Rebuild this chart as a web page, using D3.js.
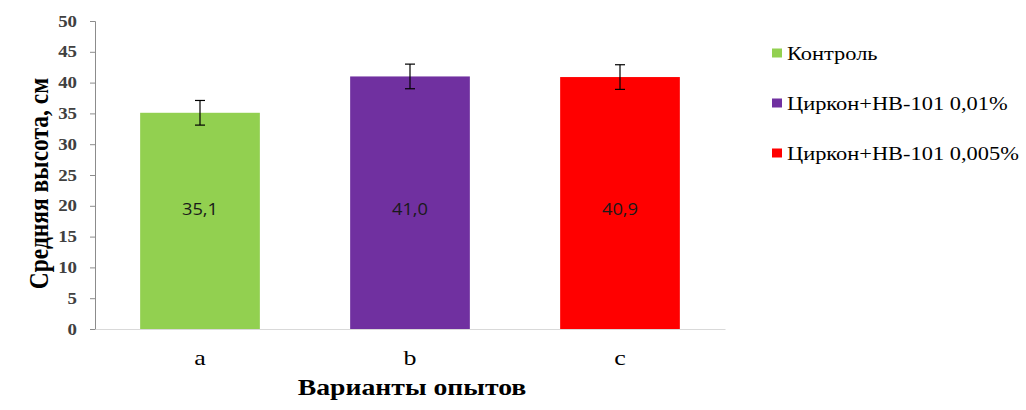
<!DOCTYPE html>
<html>
<head>
<meta charset="utf-8">
<script src="https://cdn.jsdelivr.net/npm/d3@7"></script>
<style>
  html, body { margin: 0; padding: 0; background: #fff; }
  svg { display: block; }
</style>
</head>
<body>
<svg id="chart" width="1026" height="410"></svg>
<script>
const categories = ["a", "b", "c"];
const seriesNames = ["Контроль", "Циркон+НВ-101 0,01%", "Циркон+НВ-101 0,005%"];
const values = [35.1, 41.0, 40.9];
const errors = [2.0, 2.0, 2.0];
const valueLabels = ["35,1", "41,0", "40,9"];
const colors = ["#92d050", "#7030a0", "#ff0000"];
const yTicks = [0, 5, 10, 15, 20, 25, 30, 35, 40, 45, 50];

const SERIF = '"Liberation Serif", "Times New Roman", serif';
const SX = 1.18; // horizontal stretch of the original picture's text
const svg = d3.select("#chart");
const margin = { left: 95, right: 301, top: 21, bottom: 81 };
const W = 1026, H = 410;

const x = d3.scaleBand().domain(categories).range([margin.left, W - margin.right]).paddingInner(0.43).paddingOuter(0.215);
const y = d3.scaleLinear().domain([0, 50]).range([H - margin.bottom, margin.top]);

// y axis
const yAxis = svg.append("g")
  .attr("transform", `translate(${margin.left},0)`)
  .call(d3.axisLeft(y).tickValues(yTicks).tickSize(5).tickPadding(13));
yAxis.attr("font-family", null);
yAxis.select(".domain").attr("stroke", "#8c8c8c").attr("stroke-width", 1);
yAxis.selectAll(".tick line").attr("stroke", "#8c8c8c");
yAxis.selectAll(".tick text")
  .attr("x", -18 / SX)
  .attr("transform", `scale(${SX},1)`)
  .style("font-family", SERIF)
  .style("font-weight", "bold").style("font-size", "16px").attr("fill", "#404040");

// x axis baseline
const xAxis = svg.append("g")
  .attr("transform", `translate(0,${y(0)})`)
  .call(d3.axisBottom(x).tickSize(0).tickPadding(20.5));
xAxis.attr("font-family", null);
xAxis.select(".domain").attr("stroke", "#d9d9d9");
xAxis.selectAll(".tick text")
  .attr("transform", `scale(${SX},1)`)
  .style("font-family", SERIF)
  .style("font-size", "22px").attr("fill", "#000");

// bars
svg.append("g").selectAll("rect").data(categories).join("rect")
  .attr("x", d => x(d))
  .attr("width", x.bandwidth())
  .attr("y", (d, i) => y(values[i]))
  .attr("height", (d, i) => y(0) - y(values[i]))
  .attr("fill", (d, i) => colors[i]);

// error bars
const eg = svg.append("g").attr("stroke", "#000").attr("stroke-width", 1.2);
categories.forEach((c, i) => {
  const cx = x(c) + x.bandwidth() / 2;
  const top = y(values[i] + errors[i]), bot = y(values[i] - errors[i]);
  eg.append("line").attr("x1", cx).attr("x2", cx).attr("y1", top).attr("y2", bot);
  eg.append("line").attr("x1", cx - 5).attr("x2", cx + 5).attr("y1", top).attr("y2", top);
  eg.append("line").attr("x1", cx - 5).attr("x2", cx + 5).attr("y1", bot).attr("y2", bot);
});

// value labels
svg.append("g").selectAll("g").data(categories).join("g")
  .attr("transform", d => `translate(${x(d) + x.bandwidth() / 2},${y(19.5)})`)
  .append("text")
  .attr("transform", `scale(${SX},1)`)
  .attr("text-anchor", "middle")
  .attr("dominant-baseline", "central")
  .style("font-family", '"Open Sans", "Noto Sans", sans-serif')
  .style("font-size", "15.5px").attr("fill", "#1a1a1a")
  .text((d, i) => valueLabels[i]);

// axis titles
svg.append("text")
  .attr("transform", `translate(48,${(77 + 290) / 2}) rotate(-90) scale(1,${SX})`)
  .attr("text-anchor", "middle")
  .style("font-family", SERIF)
  .style("font-weight", "bold").style("font-size", "23.5px").attr("fill", "#000")
  .text("Средняя высота, см");

svg.append("text")
  .attr("transform", `translate(412,395) scale(${SX},1)`)
  .attr("text-anchor", "middle")
  .style("font-family", SERIF)
  .style("font-weight", "bold").style("font-size", "23.5px").attr("fill", "#000")
  .text("Варианты опытов");

// legend
const lg = svg.append("g");
seriesNames.forEach((s, i) => {
  const ly = 53 + i * 50;
  lg.append("rect").attr("x", 772).attr("y", ly - 4.5).attr("width", 10).attr("height", 9).attr("fill", colors[i]);
  lg.append("text")
    .attr("transform", `translate(787,${ly}) scale(${SX},1)`)
    .attr("dominant-baseline", "central")
    .style("font-family", SERIF)
    .style("font-size", "19px").attr("fill", "#000").text(s);
});
</script>
</body>
</html>
